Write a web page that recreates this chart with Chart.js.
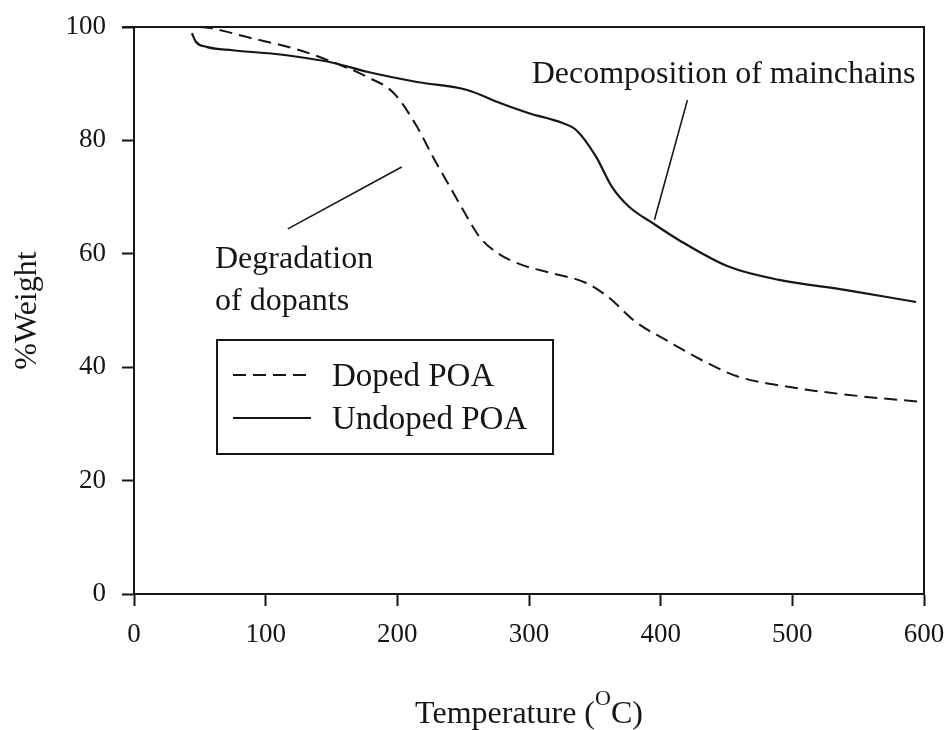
<!DOCTYPE html>
<html>
<head>
<meta charset="utf-8">
<script src="https://cdn.jsdelivr.net/npm/chart.js@4.4.0/dist/chart.umd.min.js"></script>
<style>
  html, body { margin: 0; padding: 0; background: #fff; }
  #wrap { width: 948px; height: 730px; position: relative; }
</style>
</head>
<body>
<div id="wrap"><canvas id="myChart"></canvas></div>
<script>
// TGA curves: temperature (°C) vs. % weight
const dopedTemp = [50, 58, 88, 126, 151, 177, 197, 215, 227, 240, 253, 263, 277, 295, 317, 343, 360, 381, 407, 430, 458, 498, 551, 597];
const dopedWeight = [100, 99.8, 98.1, 95.9, 93.8, 91.2, 88.4, 82.4, 77.1, 71.8, 66.5, 62.8, 60.0, 58.0, 56.6, 54.9, 52.4, 48.0, 44.4, 41.4, 38.4, 36.5, 34.9, 33.9];

const undopedTemp = [44, 47, 55, 75, 113, 151, 177, 215, 253, 278, 300, 325, 336, 351, 363, 376, 394, 414, 452, 490, 541, 594];
const undopedWeight = [98.9, 97.4, 96.5, 95.9, 95.1, 93.7, 92.1, 90.3, 88.9, 86.6, 84.8, 83.1, 81.8, 77.1, 71.8, 68.3, 65.4, 62.4, 57.7, 55.4, 53.6, 51.5];

const seriesLabels = ['Doped POA', 'Undoped POA'];
const xTicks = [0, 100, 200, 300, 400, 500, 600];
const yTicks = [0, 20, 40, 60, 80, 100];

const serif = '"Liberation Serif", "Times New Roman", serif';
const ink = '#161616';

function toPoints(xs, ys) {
    return xs.map((x, i) => ({ x: x, y: ys[i] }));
}

// frame, callouts, boxed legend and x title with superscript
const extras = {
    id: 'extras',
    afterDraw(chart) {
        const ctx = chart.ctx;
        const a = chart.chartArea;
        const sx = chart.scales.x;
        const sy = chart.scales.y;
        ctx.save();
        ctx.strokeStyle = ink;
        ctx.fillStyle = ink;
        ctx.lineWidth = 2;

        // top + right frame
        ctx.beginPath();
        ctx.moveTo(a.left - 12, a.top);
        ctx.lineTo(a.right, a.top);
        ctx.lineTo(a.right, a.bottom);
        ctx.stroke();

        // callouts
        ctx.font = '32px ' + serif;
        ctx.textBaseline = 'alphabetic';
        ctx.textAlign = 'left';
        ctx.fillText('Decomposition of mainchains', sx.getPixelForValue(302), sy.getPixelForValue(90.1));
        ctx.fillText('Degradation', sx.getPixelForValue(61.5), sy.getPixelForValue(57.5));
        ctx.fillText('of dopants', sx.getPixelForValue(61.5), sy.getPixelForValue(50.1));
        ctx.lineWidth = 1.6;
        ctx.beginPath();
        ctx.moveTo(sx.getPixelForValue(420.3), sy.getPixelForValue(87.1));
        ctx.lineTo(sx.getPixelForValue(395.3), sy.getPixelForValue(66.0));
        ctx.moveTo(sx.getPixelForValue(203.3), sy.getPixelForValue(75.3));
        ctx.lineTo(sx.getPixelForValue(116.8), sy.getPixelForValue(64.4));
        ctx.stroke();

        // legend box
        const bx = a.left + 83, by = a.top + 313;
        ctx.lineWidth = 2;
        ctx.strokeRect(bx, by, 336, 114);
        ctx.font = '33px ' + serif;
        chart.data.datasets.forEach((ds, i) => {
            const ly = by + 35 + i * 43;
            ctx.save();
            ctx.lineWidth = ds.borderWidth;
            ctx.setLineDash(ds.borderDash || []);
            ctx.beginPath();
            ctx.moveTo(bx + 16, ly);
            ctx.lineTo(bx + 94, ly);
            ctx.stroke();
            ctx.restore();
            ctx.fillText(ds.label, bx + 115, ly + 11);
        });

        // x axis title: Temperature (°C) with raised O
        const main1 = 'Temperature (';
        const main2 = 'C)';
        ctx.font = '32px ' + serif;
        const w1 = ctx.measureText(main1).width;
        const w3 = ctx.measureText(main2).width;
        ctx.font = '22px ' + serif;
        const w2 = ctx.measureText('O').width;
        const total = w1 + w2 + w3;
        let tx = (a.left + a.right) / 2 - total / 2;
        const base = 723;
        ctx.font = '32px ' + serif;
        ctx.fillText(main1, tx, base);
        ctx.font = '22px ' + serif;
        ctx.fillText('O', tx + w1, base - 18);
        ctx.font = '32px ' + serif;
        ctx.fillText(main2, tx + w1 + w2, base);
        ctx.restore();
    }
};

const ctx = document.getElementById('myChart').getContext('2d');
const myChart = new Chart(ctx, {
    type: 'line',
    data: {
        datasets: [{
            label: seriesLabels[0],
            data: toPoints(dopedTemp, dopedWeight),
            borderColor: ink,
            borderWidth: 2,
            borderDash: [13, 7],
            pointRadius: 0,
            cubicInterpolationMode: 'monotone',
            fill: false
        }, {
            label: seriesLabels[1],
            data: toPoints(undopedTemp, undopedWeight),
            borderColor: ink,
            borderWidth: 2.2,
            pointRadius: 0,
            cubicInterpolationMode: 'monotone',
            fill: false
        }]
    },
    options: {
        responsive: true,
        maintainAspectRatio: false,
        animation: false,
        layout: { padding: { top: 27, right: 24, left: 0, bottom: 0 } },
        plugins: {
            legend: { display: false },
            tooltip: { enabled: false }
        },
        scales: {
            x: {
                type: 'linear',
                min: 0,
                max: 600,
                afterBuildTicks: s => { s.ticks = xTicks.map(v => ({ value: v })); },
                afterFit: s => { s.height = 136; s.paddingLeft = 0; s.paddingRight = 0; },
                ticks: { padding: 13, color: ink, font: { family: serif, size: 27 } },
                grid: { drawOnChartArea: false, drawTicks: true, tickLength: 12, tickWidth: 2, tickColor: ink },
                border: { display: true, color: ink, width: 2 },
                title: { display: false }
            },
            y: {
                type: 'linear',
                min: 0,
                max: 100,
                afterBuildTicks: s => { s.ticks = yTicks.map(v => ({ value: v })); },
                afterFit: s => { s.width = 134; s.paddingTop = 0; s.paddingBottom = 0; },
                ticks: { padding: 16, color: ink, font: { family: serif, size: 27 } },
                grid: { drawOnChartArea: false, drawTicks: true, tickLength: 12, tickWidth: 2, tickColor: ink },
                border: { display: true, color: ink, width: 2 },
                title: {
                    display: true,
                    text: '%Weight',
                    color: ink,
                    font: { family: serif, size: 32 },
                    padding: { top: 8, bottom: 0 }
                }
            }
        }
    },
    plugins: [extras]
});
</script>
</body>
</html>
